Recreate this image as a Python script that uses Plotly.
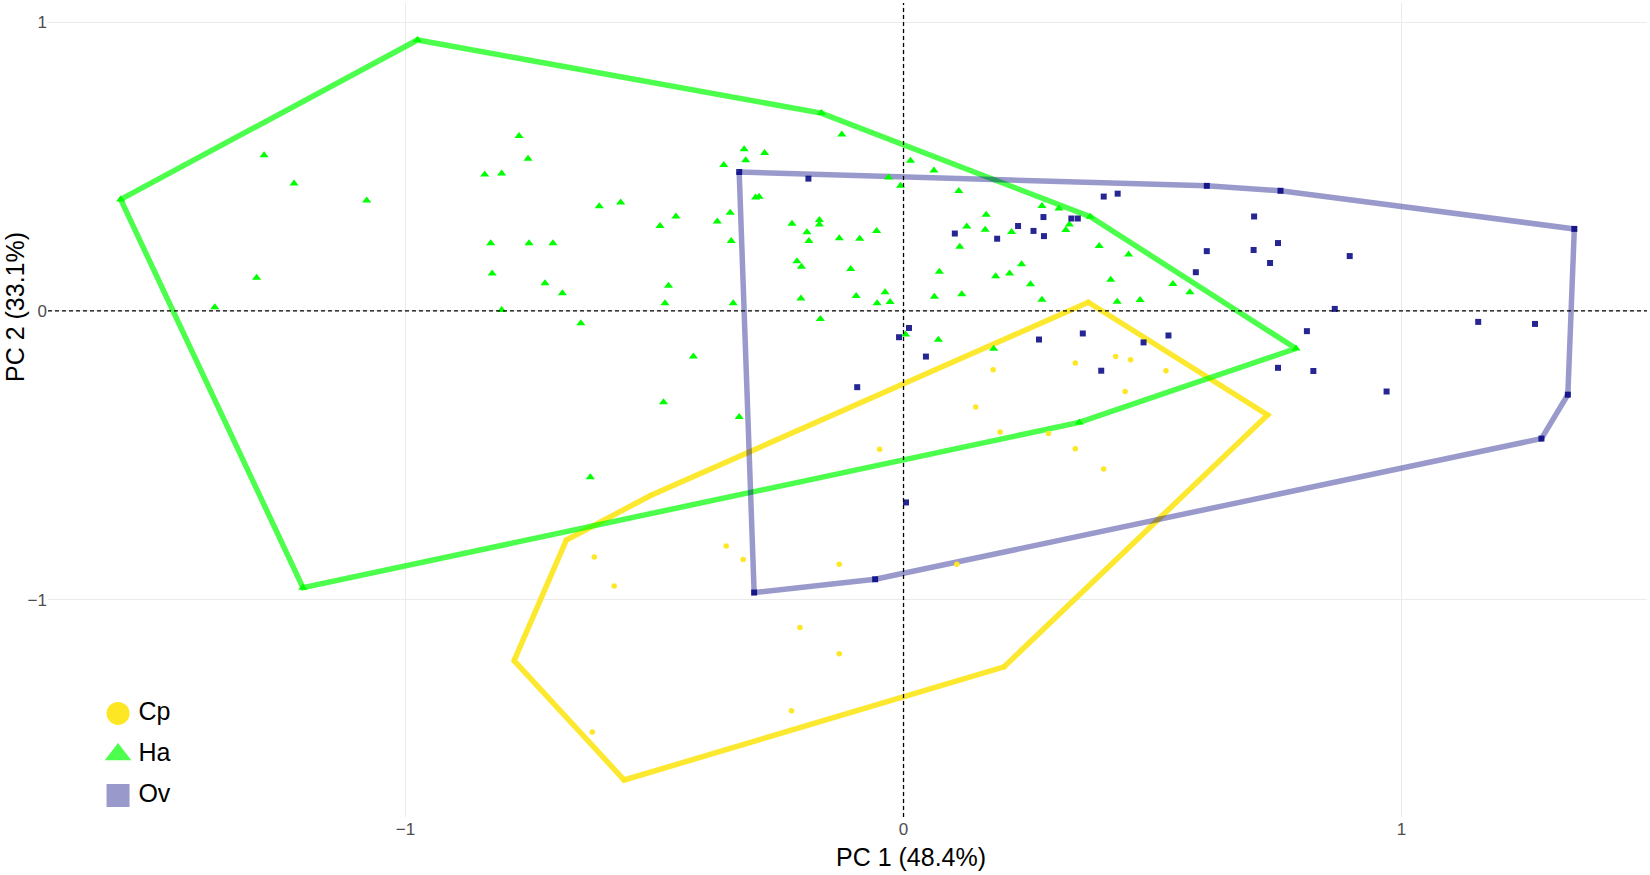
import plotly.graph_objects as go

# PCA scores
groups = ["Cp", "Ha", "Ov"]

cp_x = [0.371, 0.731, 0.202, -0.561, -0.782, -0.677, -0.508,
        0.426, 0.456, 0.527, 0.445, 0.402, -0.048, 0.180, 0.345, 0.145,
        0.194, 0.291, 0.345, -0.356, -0.322, -0.621, -0.581, -0.129,
        0.107, -0.208, -0.129, -0.225, -0.625]
cp_y = [0.030, -0.360, -1.232, -1.624, -1.211, -0.793, -0.639,
        -0.158, -0.169, -0.207, -0.279, -0.547, -0.479, -0.204, -0.180, -0.333,
        -0.419, -0.424, -0.477, -0.814, -0.861, -0.852, -0.952, -0.877,
        -0.877, -1.096, -1.187, -1.384, -1.458]

ha_x = [-1.572, -0.976, -0.165, 0.375, 0.788, 0.353, -1.206,
        -1.284, -1.224, -1.078, -1.299, -1.383, -0.772, -0.754, -0.841, -0.807,
        -0.829, -0.752, -0.704, -0.826, -0.720, -0.807,
        -0.124, -0.320, -0.279, -0.317, -0.361, -0.030, 0.014, 0.061, -0.006,
        0.111, -0.297, -0.290, -0.611, -0.568, -0.489, -0.457, -0.374, -0.348,
        -0.346, -0.224, -0.194, -0.169, -0.169, -0.190, -0.129, -0.088, -0.054,
        0.127, 0.164, 0.166, 0.217, 0.278, 0.312, 0.326, 0.333, 0.113, 0.393,
        -0.214, -0.205, -0.106, 0.072, 0.237, 0.213, 0.185, 0.255, -0.685,
        -0.472, -0.479, -0.342, -0.206, -0.095, -0.037, -0.053, -0.027, 0.062,
        0.117, 0.278, -0.648, -0.167,
        0.452, 0.416, 0.541, 0.575, 0.429, 0.475,
        -0.422, -0.482, -0.330, -0.629, 0.004, 0.070, 0.181]
ha_y = [0.386, 0.938, 0.685, 0.326, -0.130, -0.386, -0.958,
        0.539, 0.441, 0.382, 0.115, 0.013, 0.606, 0.527, 0.472, 0.476,
        0.234, 0.234, 0.234, 0.130, 0.096, 0.003,
        0.611, 0.560, 0.547, 0.522, 0.505, 0.462, 0.520, 0.486, 0.433,
        0.415, 0.393, 0.395, 0.362, 0.375, 0.294, 0.327, 0.310, 0.340,
        0.242, 0.302, 0.272, 0.315, 0.299, 0.242, 0.252, 0.250, 0.277,
        0.292, 0.281, 0.333, 0.273, 0.363, 0.355, 0.280, 0.299, 0.222, 0.225,
        0.172, 0.153, 0.145, 0.136, 0.162, 0.130, 0.120, 0.092, 0.061,
        0.087, 0.027, 0.027, 0.043, 0.052, 0.065, 0.027, 0.031, 0.049,
        0.058, 0.039, -0.043, -0.028,
        0.195, 0.108, 0.093, 0.065, 0.032, 0.038,
        -0.158, -0.316, -0.367, -0.576, -0.082, -0.100, -0.131]

ov_x = [-0.330, 0.609, 0.757, 1.347, 1.334, 1.281, -0.057, -0.300,
        -0.191, 0.103, 0.188, 0.230, 0.261, 0.281, 0.282, 0.337, 0.350,
        0.011, 0.402, 0.430, 0.704, 0.609, 0.703, 0.752, 0.736, 0.587,
        0.896, 0.866, 1.154, 1.268, 0.810, 0.482, 0.532, 0.397, 0.752,
        0.823, 0.970, -0.009, 0.045, -0.093, 0.272, 0.360, 0.005]
ov_y = [0.481, 0.433, 0.416, 0.284, -0.290, -0.442, -0.929, -0.975,
        0.458, 0.268, 0.250, 0.294, 0.277, 0.325, 0.259, 0.320, 0.320,
        -0.059, 0.396, 0.406, 0.327, 0.207, 0.211, 0.235, 0.166, 0.134,
        0.190, 0.007, -0.038, -0.045, -0.070, -0.109, -0.085, -0.207, -0.197,
        -0.208, -0.279, -0.091, -0.158, -0.264, -0.099, -0.078, -0.663]

tick_vals = [-1, 0, 1]

data = {"Cp": (cp_x, cp_y), "Ha": (ha_x, ha_y), "Ov": (ov_x, ov_y)}
point_colors = {"Cp": "#FDE725", "Ha": "#00FF00", "Ov": "rgba(0,0,128,0.85)"}
hull_colors = {"Cp": "rgba(253,231,37,0.95)", "Ha": "rgba(0,255,0,0.7)", "Ov": "rgba(0,0,128,0.4)"}
key_colors = {"Cp": "#FDE725", "Ha": "rgba(0,255,0,0.7)", "Ov": "rgba(0,0,128,0.4)"}
symbols = {"Cp": "circle", "Ha": "triangle-up", "Ov": "square"}
sizes = {"Cp": 5.5, "Ha": 8, "Ov": 6}


def convex_hull(xs, ys):
    pts = sorted(set(zip(xs, ys)))

    def cross(o, a, b):
        return (a[0] - o[0]) * (b[1] - o[1]) - (a[1] - o[1]) * (b[0] - o[0])

    lower, upper = [], []
    for p in pts:
        while len(lower) >= 2 and cross(lower[-2], lower[-1], p) <= 0:
            lower.pop()
        lower.append(p)
    for p in reversed(pts):
        while len(upper) >= 2 and cross(upper[-2], upper[-1], p) <= 0:
            upper.pop()
        upper.append(p)
    hull = lower[:-1] + upper[:-1]
    hull.append(hull[0])
    return [p[0] for p in hull], [p[1] for p in hull]


fig = go.Figure()

# hulls first, points on top
for g in groups:
    hx, hy = convex_hull(*data[g])
    fig.add_trace(go.Scatter(
        x=hx, y=hy, mode='lines',
        line=dict(color=hull_colors[g], width=5.5),
        hoverinfo='skip', showlegend=False
    ))

for g in groups:
    gx, gy = data[g]
    fig.add_trace(go.Scatter(
        x=gx, y=gy, mode='markers', name=g,
        marker=dict(symbol=symbols[g], size=sizes[g], color=point_colors[g],
                    line=dict(width=0)),
        showlegend=False
    ))

# legend drawn on a small overlay axis so the keys can be large
fig.add_trace(go.Scatter(
    x=[0] * len(groups), y=[-i for i in range(len(groups))],
    mode='markers+text', text=['\u2009' + g for g in groups], textposition='middle right',
    textfont=dict(size=25, color='black'),
    marker=dict(symbol=[symbols[g] for g in groups], size=23,
                color=[key_colors[g] for g in groups], line=dict(width=0)),
    xaxis='x2', yaxis='y2', hoverinfo='skip', showlegend=False
))

all_x = cp_x + ha_x + ov_x
all_y = cp_y + ha_y + ov_y
pad_x = 0.05 * (max(all_x) - min(all_x))
pad_y = 0.05 * (max(all_y) - min(all_y))

axis_style = dict(
    tickvals=tick_vals,
    showgrid=True, gridcolor='#EBEBEB', gridwidth=1.1,
    zeroline=False, showline=False, ticks='',
    tickfont=dict(size=17, color='#4D4D4D'),
    automargin=False, fixedrange=True
)

fig.update_layout(
    width=1650, height=875,
    margin=dict(l=48, r=3, t=3, b=58),
    plot_bgcolor='white', paper_bgcolor='white',
    font=dict(family='Liberation Sans, Arial, sans-serif', color='black'),
    showlegend=False,
    xaxis=dict(range=[min(all_x) - pad_x, max(all_x) + pad_x], **axis_style),
    yaxis=dict(range=[min(all_y) - pad_y, max(all_y) + pad_y], **axis_style),
    xaxis2=dict(domain=[0.0, 0.0876], range=[-1, 1], anchor='y2', visible=False,
                automargin=False, fixedrange=True),
    yaxis2=dict(domain=[0.0, 0.16], range=[-2.524, 0.651], anchor='x2', visible=False,
                automargin=False, fixedrange=True),
    shapes=[
        dict(type='line', xref='x', yref='paper', x0=0, x1=0, y0=0, y1=1,
             line=dict(color='black', width=1.3, dash='4px,3px'), layer='above'),
        dict(type='line', xref='paper', yref='y', x0=0, x1=1, y0=0, y1=0,
             line=dict(color='black', width=1.3, dash='4px,3px'), layer='above'),
    ],
    annotations=[
        dict(text='PC 1 (48.4%)', xref='x', yref='paper', x=0, y=-0.049, xshift=7,
             xanchor='center', yanchor='middle', showarrow=False,
             font=dict(size=25, color='black')),
        dict(text='PC 2 (33.1%)', xref='paper', yref='y', x=-0.0206, y=0, yshift=4,
             xanchor='center', yanchor='middle', textangle=-90, showarrow=False,
             font=dict(size=25, color='black')),
    ],
    dragmode=False,
)

# drop the browser's default body margin so the figure fills the window
fig.write_html("out.html", config={'displayModeBar': False},
               post_script="document.body.style.margin='0';")
